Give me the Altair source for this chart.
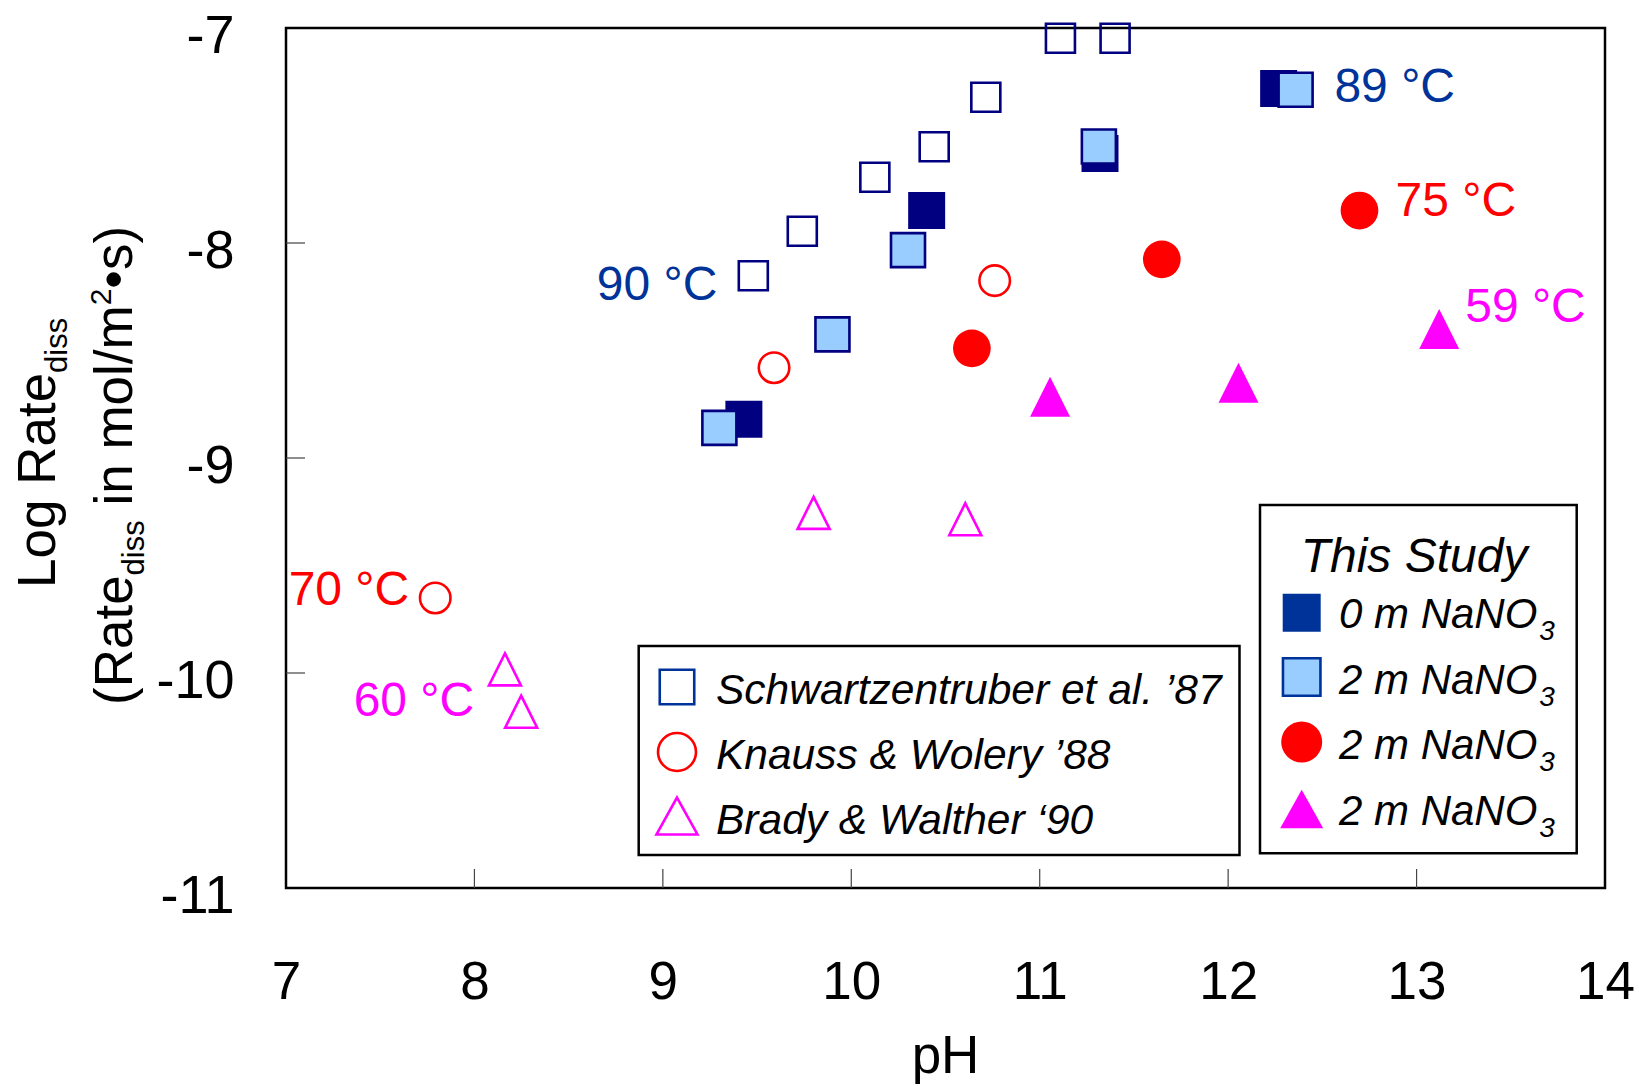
import altair as alt
import pandas as pd

# ---------------- data ----------------
schw_ph = [9.48, 9.74, 10.125, 10.44, 10.714, 11.11, 11.40]
schw_rate = [-8.152, -7.945, -7.694, -7.552, -7.322, -7.048, -7.048]

kw_ph = [7.792, 9.59, 10.761]
kw_rate = [-9.651, -8.58, -8.175]

bw_ph = [8.162, 8.248, 9.80, 10.605]
bw_rate = [-9.983, -10.180, -9.255, -9.285]

s0_ph = [9.43, 10.40, 11.32, 12.268]
s0_rate = [-8.82, -7.849, -7.584, -7.281]

s2sq_ph = [9.30, 9.90, 10.301, 11.314, 12.358]
s2sq_rate = [-8.86, -8.425, -8.033, -7.551, -7.287]

s2c_ph = [10.64, 11.648, 12.697]
s2c_rate = [-8.49, -8.076, -7.849]

s2t_ph = [11.055, 12.055, 13.12]
s2t_rate = [-8.715, -8.65, -8.40]

temp_text = ["89 °C", "75 °C", "59 °C", "90 °C", "70 °C", "60 °C"]
temp_ph = [12.564, 12.888, 13.258, 9.289, 7.654, 7.999]
temp_rate = [-7.277, -7.811, -8.300, -8.202, -9.617, -10.136]
temp_color = ["#003399", "#FF0000", "#FF00FF", "#003399", "#FF0000", "#FF00FF"]
temp_align = ["left", "left", "left", "right", "right", "right"]

x_label_values = [7, 8, 9, 10, 11, 12, 13, 14]
y_label_values = [-7, -8, -9, -10, -11]
x_tick_values = [8, 9, 10, 11, 12, 13]
y_tick_values = [-8, -9, -10]

legend1_text = ["Schwartzentruber et al. \u201987", "Knauss & Wolery \u201988", "Brady & Walther \u201890"]
legend2_title = "This Study"
legend2_text = ["0 m NaNO", "2 m NaNO", "2 m NaNO", "2 m NaNO"]
legend2_sub = "3"

y_title_1 = ["Log Rate", "diss"]
y_title_2 = ["(Rate", "diss", "in mol/m", "2", "\u2022s)"]
x_title = "pH"

# ---------------- layout ----------------
W, H = 1319, 860
OX, OY = 286, 28
FONT = "Liberation Sans"
NAVY = "#000080"
BLUE = "#003399"
LIGHT = "#99CCFF"
RED = "#FF0000"
MAG = "#FF00FF"
TRI = "M0,-1L1,1L-1,1Z"
TRI_L = "M0,-0.9L1,0.9L-1,0.9Z"

xscale = alt.Scale(domain=[7, 14], nice=False, zero=False)
yscale = alt.Scale(domain=[-11, -7], nice=False, zero=False)

xaxis = alt.Axis(values=x_label_values, domain=False, ticks=False, tickSize=0, grid=False,
                 labelFontSize=53, labelFont=FONT, labelColor="black", labelPadding=110,
                 labelBaseline="alphabetic", labelFlush=False, labelOverlap=False,
                 labelExpr="'' + datum.value")
yaxis = alt.Axis(values=y_label_values, domain=False, ticks=False, tickSize=0, grid=False,
                 labelFontSize=54, labelFont=FONT, labelColor="black", labelPadding=52,
                 labelBaseline="middle", labelOffset=8, labelFlush=False, labelOverlap=False,
                 labelExpr="'' + datum.value")

X = alt.X("ph:Q", scale=xscale, axis=xaxis, title=None)
Y = alt.Y("rate:Q", scale=yscale, axis=yaxis, title=None)

one = pd.DataFrame({"a": [0]})


def frame(ph, rate):
    return pd.DataFrame({"ph": ph, "rate": rate})


layers = []

# inward tick marks
layers.append(alt.Chart(pd.DataFrame({"ph": x_tick_values})).mark_rule(color="#444", strokeWidth=1.2)
              .encode(x=X, y=alt.value(H), y2=alt.value(H - 19)))
layers.append(alt.Chart(pd.DataFrame({"rate": y_tick_values})).mark_rule(color="#444", strokeWidth=1.2)
              .encode(y=Y, x=alt.value(0), x2=alt.value(19)))

# literature data (open symbols)
layers.append(alt.Chart(frame(schw_ph, schw_rate)).mark_point(
    shape="square", size=841, filled=False, color=NAVY, strokeWidth=2.6, opacity=1).encode(x=X, y=Y))
layers.append(alt.Chart(frame(kw_ph, kw_rate)).mark_point(
    shape="circle", size=930, filled=False, color=RED, strokeWidth=2.6, opacity=1).encode(x=X, y=Y))
layers.append(alt.Chart(frame(bw_ph, bw_rate)).mark_point(
    shape=TRI, size=1024, filled=False, color=MAG, strokeWidth=2.6, opacity=1).encode(x=X, y=Y))

# this study (filled symbols)
layers.append(alt.Chart(frame(s0_ph, s0_rate)).mark_point(
    shape="square", size=1369, filled=True, color=NAVY, opacity=1).encode(x=X, y=Y))
layers.append(alt.Chart(frame(s2sq_ph, s2sq_rate)).mark_point(
    shape="square", size=1156, filled=True, fill=LIGHT, stroke=NAVY, strokeWidth=2.6, opacity=1).encode(x=X, y=Y))
layers.append(alt.Chart(frame(s2c_ph, s2c_rate)).mark_point(
    shape="circle", size=1421, filled=True, color=RED, opacity=1).encode(x=X, y=Y))
layers.append(alt.Chart(frame(s2t_ph, s2t_rate)).mark_point(
    shape=TRI, size=1600, filled=True, color=MAG, opacity=1).encode(x=X, y=Y))

# temperature annotations
for t, p, r, c, a in zip(temp_text, temp_ph, temp_rate, temp_color, temp_align):
    layers.append(alt.Chart(pd.DataFrame({"ph": [p], "rate": [r], "t": [t]})).mark_text(
        font=FONT, fontSize=48, color=c, align=a, baseline="middle").encode(x=X, y=Y, text="t:N"))


def px(x):
    return alt.value(x - OX)


def py(y):
    return alt.value(y - OY)


def txt(s, x, y, size, **kw):
    return alt.Chart(one).mark_text(text=s, font=FONT, fontSize=size, color="black", **kw).encode(
        x=px(x), y=py(y))


def box(x1, y1, x2, y2):
    return alt.Chart(one).mark_rect(fill="white", stroke="black", strokeWidth=2.5).encode(
        x=px(x1), x2=px(x2), y=py(y1), y2=py(y2))


def sym(x, y, **kw):
    return alt.Chart(one).mark_point(opacity=1, **kw).encode(x=px(x), y=py(y))


# legend 1 (literature)
layers.append(box(638.7, 646, 1239.5, 855))
l1_sym_y = [687, 752, 816]
l1_txt_y = [704, 769, 834]
layers.append(sym(677, l1_sym_y[0], shape="square", size=1190, filled=False, color=BLUE, strokeWidth=2.6))
layers.append(sym(677, l1_sym_y[1], shape="circle", size=1444, filled=False, color=RED, strokeWidth=2.6))
layers.append(sym(677, l1_sym_y[2], shape=TRI_L, size=1681, filled=False, color=MAG, strokeWidth=2.6))
for s, yy in zip(legend1_text, l1_txt_y):
    layers.append(txt(s, 716, yy, 42.5, fontStyle="italic", align="left", baseline="alphabetic"))

# legend 2 (this study)
layers.append(box(1260, 505, 1576.7, 853.3))
layers.append(txt(legend2_title, 1414, 571.7, 48, fontStyle="italic", align="center", baseline="alphabetic"))
l2_sym_y = [612.7, 677, 742, 809]
l2_txt_y = [628, 694, 759, 825]
LF = 42
layers.append(sym(1301.7, l2_sym_y[0], shape="square", size=1444, filled=True, color=BLUE))
layers.append(sym(1301.7, l2_sym_y[1], shape="square", size=1406, filled=True, fill=LIGHT, stroke=BLUE, strokeWidth=2.6))
layers.append(sym(1301.7, l2_sym_y[2], shape="circle", size=1681, filled=True, color=RED))
layers.append(sym(1301.7, l2_sym_y[3], shape=TRI_L, size=1849, filled=True, color=MAG))
for s, yy in zip(legend2_text, l2_txt_y):
    layers.append(txt(s, 1339, yy, LF, fontStyle="italic", align="left", baseline="alphabetic"))
    layers.append(txt(legend2_sub, 1339 + 4.723 * LF + 2, yy + 12, 28, fontStyle="italic", align="left",
                      baseline="alphabetic"))

# y-axis title (rotated, with sub/superscripts)
F1, FS = 53, 31
rot = dict(angle=270, align="left", baseline="alphabetic")
layers.append(txt(y_title_1[0], 55, 588, F1, **rot))
layers.append(txt(y_title_1[1], 67, 588 - 4.058 * F1, FS, **rot))
b2 = 131.7
y0 = 705
layers.append(txt(y_title_2[0], b2, y0, F1, **rot))
y1 = y0 - 2.445 * F1
layers.append(txt(y_title_2[1], b2 + 12, y1, FS, **rot))
y2 = y1 - 1.778 * FS - 0.278 * F1
layers.append(txt(y_title_2[2], b2, y2, F1, **rot))
y3 = y2 - 3.778 * F1
layers.append(txt(y_title_2[3], b2 - 21, y3, 30, **rot))
y4 = y3 - 0.556 * 30
layers.append(txt(y_title_2[4], b2, y4, F1, **rot))

# x-axis title
layers.append(txt(x_title, OX + W / 2, 1073, 53, align="center", baseline="alphabetic"))

chart = alt.layer(*layers).properties(
    width=W, height=H,
    autosize=alt.AutoSizeParams(type="none"),
    padding={"left": OX, "top": OY, "right": 1639 - OX - W, "bottom": 1086 - OY - H},
    background="white",
).configure_view(stroke="black", strokeWidth=2.5)

chart.save("out.html", embed_options={"renderer": "svg", "actions": False})
